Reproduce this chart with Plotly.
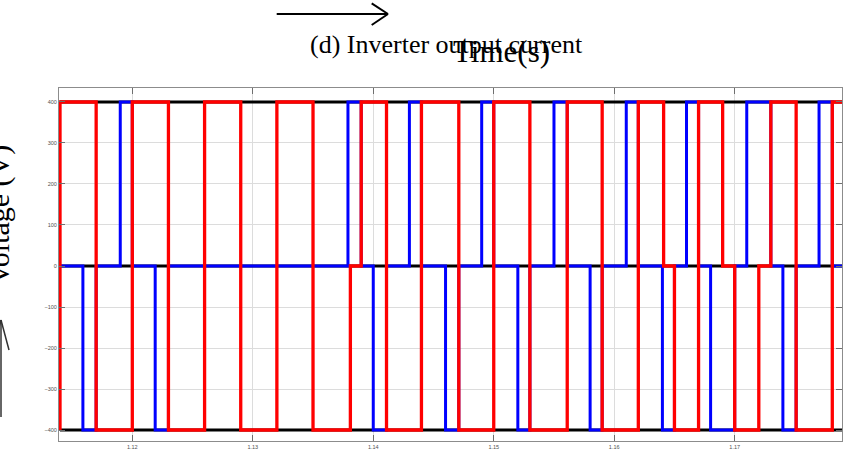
import plotly.graph_objects as go

# --- waveform data (time in s, voltage in V) ---
red_t = [1.1140, 1.1140, 1.1170, 1.1200, 1.1230, 1.1260, 1.1290, 1.1320, 1.1350,
         1.1381, 1.1390, 1.1411, 1.1440, 1.1471, 1.1500, 1.1530, 1.1561, 1.1590,
         1.1620, 1.1641, 1.1650, 1.1670, 1.1690, 1.1700, 1.1720, 1.1730, 1.1751,
         1.1781, 1.1790]
red_v = [-400, 400, -400, 400, -400, 400, -400, 400, -400,
         0, 400, -400, 400, -400, 400, -400, 400, -400,
         400, 0, -400, 400, 0, -400, 0, 400, -400,
         400, 400]

blue_t = [1.1140, 1.1159, 1.1170, 1.1190, 1.1200, 1.1219, 1.1230, 1.1379, 1.1390,
          1.1400, 1.1411, 1.1430, 1.1440, 1.1460, 1.1471, 1.1490, 1.1500, 1.1520,
          1.1530, 1.1550, 1.1561, 1.1580, 1.1590, 1.1610, 1.1620, 1.1640, 1.1650,
          1.1660, 1.1670, 1.1680, 1.1700, 1.1710, 1.1730, 1.1740, 1.1751, 1.1770,
          1.1781, 1.1790]
blue_v = [0, -400, 0, 400, 0, -400, 0, 400, 0,
          -400, 0, 400, 0, -400, 0, 400, 0, -400,
          0, 400, 0, -400, 0, 400, 0, -400, 0,
          400, 0, -400, 0, 400, 0, -400, 0, 400,
          0, 0]

black_levels = [400, 0, -400]
black_span = [1.1140, 1.1790]

x_ticks = [1.12, 1.13, 1.14, 1.15, 1.16, 1.17]
x_tick_text = ["1.12", "1.13", "1.14", "1.15", "1.16", "1.17"]
y_ticks = [-400, -300, -200, -100, 0, 100, 200, 300, 400]

W, H = 843, 461
L, R, T, B = 59, 1, 88, 20
PW, PH = W - L - R, H - T - B


def px(x):
    return (x - L) / PW


def py(y):
    return 1 - (y - T) / PH


fig = go.Figure()

bx, by = [], []
for lv in black_levels:
    bx += [black_span[0], black_span[1], None]
    by += [lv, lv, None]
fig.add_trace(go.Scatter(x=bx, y=by, mode="lines",
                         line=dict(color="black", width=3), hoverinfo="skip"))
fig.add_trace(go.Scatter(x=blue_t, y=blue_v, mode="lines",
                         line=dict(color="#0000FF", width=3, shape="hv")))
fig.add_trace(go.Scatter(x=red_t, y=red_v, mode="lines",
                         line=dict(color="#FF0000", width=3.3, shape="hv")))

axis_common = dict(
    showgrid=True, gridcolor="#dcdcdc", gridwidth=1,
    showline=True, linecolor="#8c8c8c", linewidth=1, mirror="ticks",
    ticks="inside", ticklen=6, tickcolor="#6e6e6e",
    tickfont=dict(family="Liberation Sans, Arial, sans-serif", size=5.5, color="#505050"),
    zeroline=False,
)

fig.update_xaxes(range=[1.113916, 1.178906], tickvals=x_ticks, ticktext=x_tick_text,
                 **axis_common)
fig.update_yaxes(range=[-426.8, 434.1], tickvals=y_ticks, **axis_common)

serif = "Liberation Serif, Times New Roman, serif"
annotations = [
    dict(text="(d) Inverter output current", x=px(446.5), y=py(44),
         font=dict(family=serif, size=26, color="black")),
    dict(text="Time(s)", x=px(502), y=py(52), font=dict(family=serif, size=31, color="black")),
    dict(text="Voltage (V)", x=px(-1), y=py(215), textangle=-90,
         font=dict(family=serif, size=30, color="black")),
]
for a in annotations:
    a.update(xref="paper", yref="paper", showarrow=False,
             xanchor="center", yanchor="middle")

shapes = []


def seg(x0, y0, x1, y1, w=2, c="black"):
    shapes.append(dict(type="line", xref="paper", yref="paper",
                       x0=px(x0), y0=py(y0), x1=px(x1), y1=py(y1),
                       line=dict(color=c, width=w)))


# horizontal arrow above the plot
seg(276.7, 14, 388, 14)
seg(388, 14, 371.7, 3.3)
seg(388, 14, 371.7, 25)
# vertical arrow at the left edge
seg(1, 320, 1, 417, w=1.5, c="#333333")
seg(1, 320, 9, 350, w=1.5, c="#333333")
seg(1, 320, -7, 350, w=1.5, c="#333333")

fig.update_layout(
    width=W, height=H,
    margin=dict(l=L, r=R, t=T, b=B, pad=0),
    paper_bgcolor="white", plot_bgcolor="white",
    showlegend=False,
    annotations=annotations,
    shapes=shapes,
)

fig.write_html("out.html")
